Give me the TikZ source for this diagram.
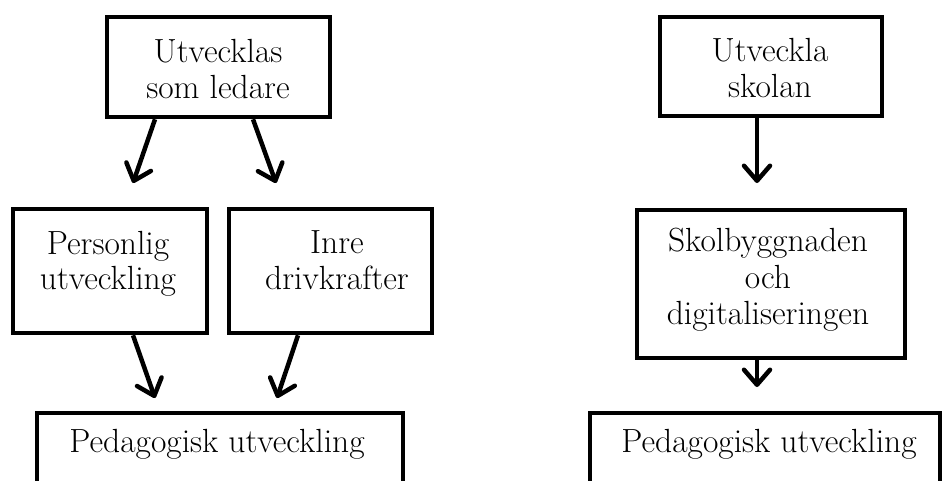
\documentclass[tikz,border=0pt]{standalone}
\usetikzlibrary{arrows.meta}
\begin{document}
\begin{tikzpicture}[x=1pt,y=-1pt,
  box/.style={draw=black,line width=4.5pt,minimum width=#1,inner sep=0pt},
  lbl/.style={align=center,inner sep=0pt,font=\fontsize{33.5}{35.5}\selectfont},
  conn/.style={line width=4.5pt,-{Straight Barb[length=15pt,width=26pt,round]}}
]
\clip (0,0) rectangle (943,480);
\fill[white] (0,0) rectangle (943,480);
% left side boxes
\node[box=223pt,minimum height=100pt] (lead) at (218.5,67) {};
\node[box=194pt,minimum height=124pt] (pers) at (110,271) {};
\node[box=203pt,minimum height=124pt] (inre) at (330.5,271) {};
\node[box=366pt,minimum height=100pt] (pedl) at (220,463) {};
% right side boxes
\node[box=222pt,minimum height=99pt] (skol) at (771,66.5) {};
\node[box=268pt,minimum height=148pt] (bygg) at (771,284) {};
\node[box=350pt,minimum height=100pt] (pedr) at (765,463) {};
% texts
\node[lbl] (tlead) at (218,68.9) {Utvecklas\\som ledare};
\node[lbl] (tpers) at (108,263.7) {Personlig\\utveckling};
\node[lbl] (tinre) at (337,260.4) {Inre\\drivkrafter};
\node[lbl] (tpedl) at (217,444.7) {Pedagogisk utveckling};
\node[lbl] (tskol) at (770,67.9) {Utveckla\\skolan};
\node[lbl,font=\fontsize{33.5}{36.5}\selectfont] (tbygg) at (768,280.2) {Skolbyggnaden\\och\\digitaliseringen};
\node[lbl] (tpedr) at (769,444.7) {Pedagogisk utveckling};
% arrow end points
\coordinate (e1) at (133,183);
\coordinate (e2) at (276,183);
\coordinate (e3) at (155,398);
\coordinate (e4) at (277,398);
\coordinate (e5) at (757,183);
\coordinate (e6) at (757,387);
% connectors
\draw[conn] ([xshift=-63.5pt]lead.south) -- (e1);
\draw[conn] ([xshift=34.5pt]lead.south) -- (e2);
\draw[conn] ([xshift=23pt]pers.south) -- (e3);
\draw[conn] ([xshift=-32.5pt]inre.south) -- (e4);
\draw[conn] ([xshift=-14pt]skol.south) -- (e5);
\draw[conn] ([xshift=-14pt]bygg.south) -- (e6);
\end{tikzpicture}
\end{document}
